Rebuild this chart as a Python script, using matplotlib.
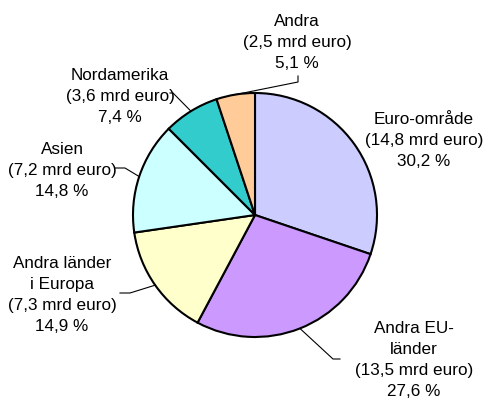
import matplotlib.pyplot as plt
import numpy as np

plt.rcParams['font.family'] = ['Liberation Sans', 'DejaVu Sans']

# andel av export per region, medurs från klockan tolv
regions = ["Euro-område", "Andra EU-\nländer", "Andra länder\ni Europa",
           "Asien", "Nordamerika", "Andra"]
mrd_euro = [14.8, 13.5, 7.3, 7.2, 3.6, 2.5]
percent = [30.2, 27.6, 14.9, 14.8, 7.4, 5.1]
colors = ["#ccccff", "#cc99ff", "#ffffcc", "#ccffff", "#33cccc", "#ffcc99"]

W, H = 483, 401
fig = plt.figure(figsize=(W / 100, H / 100), dpi=100)
ax = fig.add_axes([0, 0, 1, 1])

cx, cy, r = 255, H - 215, 122
wedges, _ = ax.pie(percent, colors=colors, startangle=90, counterclock=False,
                   center=(cx, cy), radius=r, frame=True,
                   wedgeprops=dict(edgecolor='black', linewidth=1.5))
ax.set_xlim(0, W)
ax.set_ylim(0, H)
ax.set_aspect('equal')
ax.axis('off')

# text position (px from top-left), elbow, end of horizontal stub
layout = [
    ((424, 141), None, None),
    ((414, 360), (333, 359), (340, 359)),
    ((62, 295), (130, 293), (120, 293)),
    ((62, 170), (125, 168), (115, 168)),
    ((120, 97), (173, 93), (170, 93)),
    ((297, 43), (298, 82), (298, 76)),
]

for w, name, val, pct, (tpos, elbow, stub) in zip(wedges, regions, mrd_euro, percent, layout):
    label = "%s\n(%s mrd euro)\n%s %%" % (name, str(val).replace('.', ','),
                                          str(pct).replace('.', ','))
    ax.text(tpos[0], H - tpos[1], label, ha='center', va='center',
            fontsize=12.3, linespacing=1.5)
    if elbow is None:
        continue
    ang = np.deg2rad((w.theta1 + w.theta2) / 2)
    px, py = cx + r * np.cos(ang), cy + r * np.sin(ang)
    ax.plot([px, elbow[0], stub[0]], [py, H - elbow[1], H - stub[1]],
            color='black', linewidth=0.8)

fig.savefig("out.png", dpi=100)
